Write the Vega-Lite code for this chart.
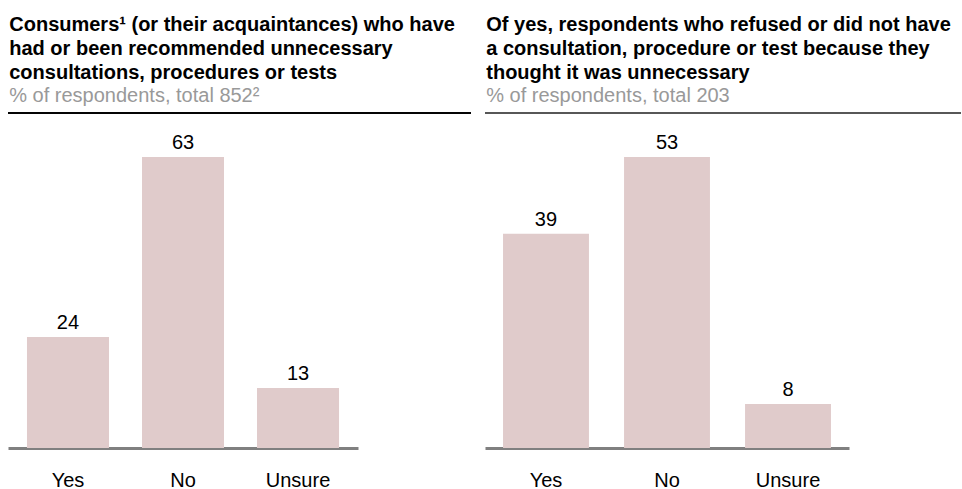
{
  "$schema": "https://vega.github.io/schema/vega-lite/v6.json",
  "autosize": {"type": "pad"},
  "padding": {"left": 7, "top": 15, "right": 0, "bottom": 0},
  "background": "white",
  "datasets": {
    "left": [
      {"answer": "Yes", "pct": 24},
      {"answer": "No", "pct": 63},
      {"answer": "Unsure", "pct": 13}
    ],
    "right": [
      {"answer": "Yes", "pct": 39},
      {"answer": "No", "pct": 53},
      {"answer": "Unsure", "pct": 8}
    ]
  },
  "spacing": 12,
  "hconcat": [
    {
      "width": 463,
      "height": 335,
      "data": {"name": "left"},
      "title": {
        "text": ["Consumers¹ (or their acquaintances) who have", "had or been recommended unnecessary", "consultations, procedures or tests"],
        "subtitle": "% of respondents, total 852²"
      },
      "layer": [
        {
          "mark": {"type": "bar", "color": "#e0cbcb"},
          "encoding": {
            "x": {"field": "answer", "type": "nominal", "sort": ["Yes", "No", "Unsure"],
                  "scale": {"rangeMax": 350, "paddingInner": 0.287, "paddingOuter": 0.165},
                  "axis": {"title": null, "labelAngle": 0, "ticks": false, "tickSize": 0, "labelPadding": 22,
                           "domainColor": "#808080", "domainWidth": 3, "labelFontSize": 20, "labelColor": "#000", "labelFont": "Liberation Sans"}},
            "y": {"field": "pct", "type": "quantitative", "scale": {"domain": [0, 72.5], "nice": false}, "axis": null}
          }
        },
        {
          "mark": {"type": "text", "baseline": "alphabetic", "dy": -8, "fontSize": 20, "font": "Liberation Sans", "color": "#000"},
          "encoding": {
            "x": {"field": "answer", "type": "nominal", "sort": ["Yes", "No", "Unsure"]},
            "y": {"field": "pct", "type": "quantitative"},
            "text": {"field": "pct", "type": "quantitative"}
          }
        },
        {
          "mark": {"type": "rule", "color": "#000", "strokeWidth": 1.5},
          "encoding": {"y": {"datum": 72.5, "type": "quantitative"}}
        }
      ]
    },
    {
      "width": 476,
      "height": 335,
      "data": {"name": "right"},
      "title": {
        "text": ["Of yes, respondents who refused or did not have", "a consultation, procedure or test because they", "thought it was unnecessary"],
        "subtitle": "% of respondents, total 203"
      },
      "layer": [
        {
          "mark": {"type": "bar", "color": "#e0cbcb"},
          "encoding": {
            "x": {"field": "answer", "type": "nominal", "sort": ["Yes", "No", "Unsure"],
                  "scale": {"rangeMax": 364, "paddingInner": 0.29, "paddingOuter": 0.149},
                  "axis": {"title": null, "labelAngle": 0, "ticks": false, "tickSize": 0, "labelPadding": 22,
                           "domainColor": "#808080", "domainWidth": 3, "labelFontSize": 20, "labelColor": "#000", "labelFont": "Liberation Sans"}},
            "y": {"field": "pct", "type": "quantitative", "scale": {"domain": [0, 61], "nice": false}, "axis": null}
          }
        },
        {
          "mark": {"type": "text", "baseline": "alphabetic", "dy": -8, "fontSize": 20, "font": "Liberation Sans", "color": "#000"},
          "encoding": {
            "x": {"field": "answer", "type": "nominal", "sort": ["Yes", "No", "Unsure"]},
            "y": {"field": "pct", "type": "quantitative"},
            "text": {"field": "pct", "type": "quantitative"}
          }
        },
        {
          "mark": {"type": "rule", "color": "#555", "strokeWidth": 1.5},
          "encoding": {"y": {"datum": 61, "type": "quantitative"}}
        }
      ]
    }
  ],
  "resolve": {"scale": {"y": "independent"}},
  "config": {
    "view": {"stroke": null},
    "title": {
      "anchor": "start",
      "dx": 2,
      "font": "Liberation Sans",
      "fontSize": 20,
      "fontWeight": "bold",
      "color": "#000",
      "lineHeight": 24,
      "subtitleFont": "Liberation Sans",
      "subtitleFontSize": 20,
      "subtitleColor": "#999",
      "subtitlePadding": 0,
      "offset": 6
    }
  }
}
